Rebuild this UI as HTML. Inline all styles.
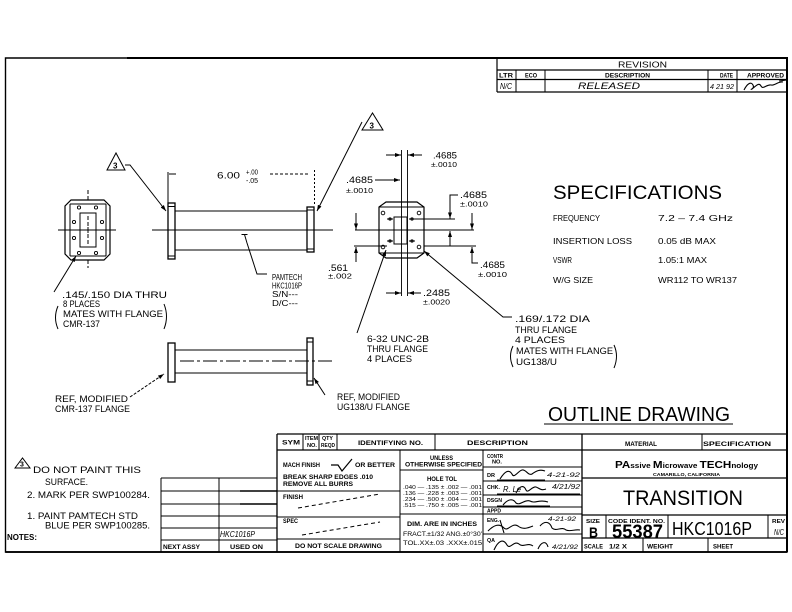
<!DOCTYPE html>
<html><head><meta charset="utf-8">
<style>
html,body{margin:0;padding:0;background:#fff;}
svg{display:block;}
text{font-family:"Liberation Sans",sans-serif;fill:#000;stroke:none;}
</style></head><body>
<svg width="792" height="612" viewBox="0 0 792 612" xmlns="http://www.w3.org/2000/svg">
<defs>
<marker id="ah" viewBox="0 0 6 4" refX="6" refY="2" markerWidth="6" markerHeight="4" markerUnits="userSpaceOnUse" orient="auto"><path d="M0,0L6,2L0,4z" fill="#000"/></marker>
</defs>
<rect width="792" height="612" fill="#fff"/>

<g stroke="#000" fill="none" stroke-width="1">
<!-- border -->
<path d="M5.5,58 H787 V552 H5.5 Z" stroke-width="1.4"/>
<path d="M127,58 H787 V552" stroke-width="2"/>
<path d="M5.5,552 H787" stroke-width="1.8"/>

<!-- revision block -->
<path d="M497,58 V92 M497,70 H787 M497,79.5 H787 M497,92 H787" stroke-width="1.2"/>
<path d="M516,70 V92 M545,70 V92 M708,70 V92 M737,70 V92"/>

<!-- title block -->
<path d="M277,434 H787 M277,450 H787" stroke-width="1.3"/>
<path d="M277,434 V552 M582,434 V552" stroke-width="1.3"/>
<path d="M303,434 V450 M319,434 V450 M337,434 V450 M435,434 V450 M702,434 V450"/>
<path d="M400,450 V552 M483,450 V552"/>
<path d="M277,491 H400 M277,517 H400 M277,539 H400"/>
<path d="M400,470 H483 M400,514 H483"/>
<path d="M483,467 H582 M483,481 H582 M483,495 H582 M483,507 H582 M483,514 H582 M483,534 H582"/>
<path d="M582,478 H787 M582,515 H787 M582,538 H787" stroke-width="1.2"/>
<path d="M606,515 V538 M668,515 V538 M768,515 V538 M643,538 V552 M708,538 V552"/>
<!-- next assy table -->
<path d="M161,478 V552 M219,478 V552"/>
<path d="M161,478 H277 M161,491 H277 M161,504 H277 M161,516 H277 M161,528 H277 M161,540 H277"/>
<path d="M240,491 H277 M240,504 H277" stroke-width="1.6"/>

<!-- left end view -->
<path d="M71,200 H104 L110,206 V254 L104,260 H71 L65,254 V206 Z" stroke-width="1.2"/>
<path d="M70,204 V256 M106,204 V256 M70,204 H106 M70,256 H106"/>
<rect x="80" y="213" width="16" height="34"/>
<path d="M58,230 H116"/>
<path d="M88,190 V200 M88,260 V268 M88,216 V244" stroke-dasharray="4 2"/>
<path d="M85,230 H91 M88,227 V233"/>
<g stroke-width="0.9">
<circle cx="79" cy="207.5" r="1.6"/><circle cx="96" cy="207.5" r="1.6"/>
<circle cx="74" cy="222" r="1.6"/><circle cx="102" cy="222" r="1.6"/>
<circle cx="74" cy="238" r="1.6"/><circle cx="102" cy="238" r="1.6"/>
<circle cx="79" cy="253" r="1.6"/><circle cx="96" cy="253" r="1.6"/>
</g>
<path d="M54,292 L76,256" marker-end="url(#ah)"/>
<path d="M58,306 Q53,317.5 58,329"/>
<path d="M164,304 Q169,316.5 164,329"/>

<!-- top side view -->
<rect x="168" y="203" width="7" height="56" stroke-width="1.3"/>
<path d="M168,206.5 H175 M168,256 H175"/>
<path d="M175,211 H307 M175,250 H307" stroke-width="1.1"/>
<rect x="307" y="207" width="7" height="45" stroke-width="1.3"/>
<path d="M307,210 H314 M307,249 H314"/>
<path d="M152,230 H333"/>
<path d="M168,203 V172"/>
<path d="M169,174 H176"/>
<path d="M270,174 H310" stroke-dasharray="3 2"/>
<path d="M314.5,170 V206" stroke-dasharray="2 2"/>
<path d="M241.5,234.5 H247.5 M244.5,234.5 L247,243 L257,274 H267"/>
<!-- triangles -->
<path d="M107,170 L116,153 L125,170 Z"/>
<path d="M125,165 H130 L166,211" marker-end="url(#ah)"/>
<path d="M362,130 L372.5,113 L383,130 Z"/>
<path d="M362,122 L317,211" marker-end="url(#ah)"/>

<!-- right end view -->
<path d="M379,207 L386,202 H417 L424,207 V253 L417,258 H386 L379,253 Z" stroke-width="1.2"/>
<path d="M379,207 H424 M379,253 H424"/>
<rect x="394" y="217" width="13" height="27"/>
<g stroke-width="0.9">
<circle cx="383" cy="213" r="1.8"/><circle cx="419" cy="213" r="1.8"/>
<circle cx="383" cy="247" r="1.8"/><circle cx="419" cy="247" r="1.8"/>
<circle cx="390" cy="219" r="1.2"/><circle cx="412" cy="219" r="1.2"/>
<circle cx="390" cy="241" r="1.2"/><circle cx="412" cy="241" r="1.2"/>
<path d="M387,219 H393 M409,219 H415 M387,241 H393 M409,241 H415"/>
</g>
<path d="M401.5,150 V296 M407.5,150 V296" stroke-width="0.9"/>
<path d="M355,230 H474"/>
<path d="M386,155 H401" marker-end="url(#ah)"/>
<path d="M422,155 H408" marker-end="url(#ah)"/>
<path d="M375,180 H400" marker-end="url(#ah)"/>
<path d="M458,195 H450 V218.5" marker-end="url(#ah)"/>
<path d="M412,219 H455"/>
<path d="M450,246 V231" marker-end="url(#ah)"/>
<path d="M472,213 V229.5" marker-end="url(#ah)"/>
<path d="M478,263 H472 V247" marker-end="url(#ah)"/>
<path d="M424,246 H476"/>
<path d="M356,213 V229.5" marker-end="url(#ah)"/>
<path d="M356,262 V247" marker-end="url(#ah)"/>
<path d="M354,246 H387"/>
<path d="M386,293 H401" marker-end="url(#ah)"/>
<path d="M421,293 H408" marker-end="url(#ah)"/>
<path d="M357,333 L386,250" marker-end="url(#ah)"/>
<path d="M512,317 H503 L424,251" marker-end="url(#ah)"/>
<path d="M513,346 Q508,356 513,367"/>
<path d="M614,345 Q619,356 614,368"/>

<!-- lower side view -->
<rect x="168" y="343" width="7" height="39" stroke-width="1.3"/>
<path d="M175,350 H307 M175,373 H307" stroke-width="1.1"/>
<rect x="307" y="338" width="6" height="47" stroke-width="1.3"/>
<path d="M307,342 H313 M307,381 H313"/>
<path d="M180,361 H333" stroke-dasharray="14 3 3 3"/>
<path d="M130,397 L164,374" marker-end="url(#ah)" stroke-dasharray="3 1.5"/>
<path d="M325,395 L314,378" marker-end="url(#ah)"/>

<!-- outline drawing underline -->
<path d="M544,424 H733"/>

<!-- notes triangle -->
<path d="M15,468 L22.5,458 L30,468 Z"/>

<!-- title block misc -->
<path d="M331,465 H338 L342,471 L352,459" stroke-width="1.2"/>
<path d="M298,508 L380,494" stroke-dasharray="4 3"/>
<path d="M302,535 L380,522" stroke-dasharray="4 3"/>
<!-- signatures -->
<path d="M744,90 C747,84 751,81 753,85 C755,89 749,90 752,89 C756,86 759,82 761,86 C763,90 767,84 771,85 C775,86 778,81 783,82 M779,81 L787,80" stroke-width="1.1"/>
<path d="M500,479 C505,471 509,469 512,474 C514,479 518,471 522,470 C526,469 528,476 532,474 C536,471 540,469 545,471 M497,480 H545" stroke-width="1.1"/>
<path d="M516,493 C520,485 524,485 526,490 C528,494 532,486 536,487 C539,488 541,491 546,489 M497,494 H580" stroke-width="1.1"/>
<path d="M503,505 C508,499 513,498 516,503 C520,506 525,499 530,501 C535,504 539,499 548,502 M497,506 H550" stroke-width="1.1"/>
<path d="M488,531 C494,525 499,523 504,528 C508,532 512,522 518,526 C523,530 528,528 533,526 M540,526 C545,520 550,522 552,528 C556,532 562,526 566,530 C570,532 575,529 580,530 M500,520 L504,533" stroke-width="1.1"/>
<path d="M494,550 C498,541 503,538 507,545 C510,550 514,540 519,544 C523,548 528,542 533,546 M538,549 C541,542 546,540 548,547" stroke-width="1.1"/>
</g>

<!-- ===== TEXT ===== -->
<g font-size="9" style="stroke:#000;stroke-width:0.15">
<!-- left end view notes -->
<text x="62" y="298" textLength="105" lengthAdjust="spacingAndGlyphs">.145/.150 DIA THRU</text>
<text x="63" y="307" textLength="37" lengthAdjust="spacingAndGlyphs">8 PLACES</text>
<text x="63" y="317" textLength="100" lengthAdjust="spacingAndGlyphs">MATES WITH FLANGE</text>
<text x="63" y="327" textLength="37" lengthAdjust="spacingAndGlyphs">CMR-137</text>
<!-- 6.00 -->
<text x="217" y="178.5" textLength="23" lengthAdjust="spacingAndGlyphs">6.00</text>
<text x="246" y="174.5" font-size="7" textLength="12" lengthAdjust="spacingAndGlyphs">+.00</text>
<text x="246" y="183" font-size="7" textLength="12" lengthAdjust="spacingAndGlyphs">-.05</text>
<text x="113" y="168.5" font-size="8" font-weight="bold">3</text>
<text x="369.5" y="128.5" font-size="8" font-weight="bold">3</text>
<!-- pamtech -->
<text x="272" y="280" font-size="8" textLength="30" lengthAdjust="spacingAndGlyphs">PAMTECH</text>
<text x="272" y="288.5" font-size="8" textLength="30" lengthAdjust="spacingAndGlyphs">HKC1016P</text>
<text x="272" y="297" font-size="8" textLength="26" lengthAdjust="spacingAndGlyphs">S/N---</text>
<text x="272" y="306" font-size="8" textLength="26" lengthAdjust="spacingAndGlyphs">D/C---</text>
<!-- right end view dims -->
<text x="328" y="271" textLength="20" lengthAdjust="spacingAndGlyphs">.561</text>
<text x="328" y="278.5" font-size="7.5" textLength="24" lengthAdjust="spacingAndGlyphs">±.002</text>
<text x="433" y="158.5" textLength="24" lengthAdjust="spacingAndGlyphs">.4685</text>
<text x="431" y="167" font-size="7.5" textLength="26" lengthAdjust="spacingAndGlyphs">±.0010</text>
<text x="346" y="183" textLength="27" lengthAdjust="spacingAndGlyphs">.4685</text>
<text x="346" y="193" font-size="7.5" textLength="27" lengthAdjust="spacingAndGlyphs">±.0010</text>
<text x="460" y="198" textLength="27" lengthAdjust="spacingAndGlyphs">.4685</text>
<text x="460" y="206.5" font-size="7.5" textLength="28" lengthAdjust="spacingAndGlyphs">±.0010</text>
<text x="480" y="268" textLength="25" lengthAdjust="spacingAndGlyphs">.4685</text>
<text x="478" y="277" font-size="7.5" textLength="29" lengthAdjust="spacingAndGlyphs">±.0010</text>
<text x="423" y="296" textLength="27" lengthAdjust="spacingAndGlyphs">.2485</text>
<text x="423" y="304.5" font-size="7.5" textLength="27" lengthAdjust="spacingAndGlyphs">±.0020</text>
<text x="367" y="342" textLength="62" lengthAdjust="spacingAndGlyphs">6-32 UNC-2B</text>
<text x="367" y="352" textLength="61" lengthAdjust="spacingAndGlyphs">THRU FLANGE</text>
<text x="367" y="362" textLength="45" lengthAdjust="spacingAndGlyphs">4 PLACES</text>
<text x="515" y="322" textLength="75" lengthAdjust="spacingAndGlyphs">.169/.172 DIA</text>
<text x="515" y="333" textLength="62" lengthAdjust="spacingAndGlyphs">THRU FLANGE</text>
<text x="515" y="343" textLength="50" lengthAdjust="spacingAndGlyphs">4 PLACES</text>
<text x="516" y="354" textLength="97" lengthAdjust="spacingAndGlyphs">MATES WITH FLANGE</text>
<text x="516" y="365" textLength="41" lengthAdjust="spacingAndGlyphs">UG138/U</text>
<!-- lower view labels -->
<text x="55" y="402" textLength="73" lengthAdjust="spacingAndGlyphs">REF, MODIFIED</text>
<text x="55" y="412" textLength="75" lengthAdjust="spacingAndGlyphs">CMR-137 FLANGE</text>
<text x="337" y="400" textLength="63" lengthAdjust="spacingAndGlyphs">REF, MODIFIED</text>
<text x="337" y="410" textLength="73" lengthAdjust="spacingAndGlyphs">UG138/U FLANGE</text>
</g>

<!-- specifications -->
<text x="553" y="199" font-size="19.5" textLength="169" lengthAdjust="spacingAndGlyphs">SPECIFICATIONS</text>
<g font-size="8.5">
<text x="553" y="221" textLength="47" lengthAdjust="spacingAndGlyphs">FREQUENCY</text>
<text x="658" y="221" textLength="75" lengthAdjust="spacingAndGlyphs">7.2 – 7.4 GHz</text>
<text x="553" y="244" textLength="79" lengthAdjust="spacingAndGlyphs">INSERTION LOSS</text>
<text x="658" y="244" textLength="58" lengthAdjust="spacingAndGlyphs">0.05 dB MAX</text>
<text x="553" y="263" textLength="19" lengthAdjust="spacingAndGlyphs">VSWR</text>
<text x="658" y="263" textLength="49" lengthAdjust="spacingAndGlyphs">1.05:1 MAX</text>
<text x="553" y="283" textLength="40" lengthAdjust="spacingAndGlyphs">W/G SIZE</text>
<text x="658" y="283" textLength="79" lengthAdjust="spacingAndGlyphs">WR112 TO WR137</text>
</g>
<text x="548" y="421" font-size="20.5" textLength="182" lengthAdjust="spacingAndGlyphs">OUTLINE DRAWING</text>

<!-- revision text -->
<text x="618" y="67.5" font-size="8.5" textLength="49" lengthAdjust="spacingAndGlyphs">REVISION</text>
<g font-size="6.5" font-weight="bold">
<text x="499" y="77.5" textLength="14" lengthAdjust="spacingAndGlyphs">LTR</text>
<text x="525" y="77.5" textLength="12" lengthAdjust="spacingAndGlyphs">ECO</text>
<text x="605" y="77.5" textLength="45" lengthAdjust="spacingAndGlyphs">DESCRIPTION</text>
<text x="720" y="77.5" textLength="13" lengthAdjust="spacingAndGlyphs">DATE</text>
<text x="747" y="77.5" textLength="37" lengthAdjust="spacingAndGlyphs">APPROVED</text>
</g>
<text x="500" y="89" font-size="8" font-style="italic" textLength="12" lengthAdjust="spacingAndGlyphs">N/C</text>
<text x="578" y="89" font-size="9" font-style="italic" textLength="62" lengthAdjust="spacingAndGlyphs">RELEASED</text>
<text x="710" y="89" font-size="7" font-style="italic" textLength="24" lengthAdjust="spacingAndGlyphs">4 21 92</text>

<!-- notes -->
<g font-size="9" style="stroke:#000;stroke-width:0.15">
<text x="20" y="466.5" font-size="7" font-weight="bold">3</text>
<text x="33" y="473" textLength="108" lengthAdjust="spacingAndGlyphs">DO NOT PAINT THIS</text>
<text x="45" y="485" textLength="43" lengthAdjust="spacingAndGlyphs">SURFACE.</text>
<text x="27" y="498" textLength="123" lengthAdjust="spacingAndGlyphs">2. MARK PER SWP100284.</text>
<text x="27" y="519" textLength="111" lengthAdjust="spacingAndGlyphs">1. PAINT PAMTECH STD</text>
<text x="45" y="528.5" textLength="105" lengthAdjust="spacingAndGlyphs">BLUE PER SWP100285.</text>
<text x="7" y="540" font-size="8" font-weight="bold" textLength="30" lengthAdjust="spacingAndGlyphs">NOTES:</text>
</g>
<text x="220" y="537" font-size="8" font-style="italic" textLength="35" lengthAdjust="spacingAndGlyphs">HKC1016P</text>
<text x="163" y="549" font-size="6.5" font-weight="bold" textLength="37" lengthAdjust="spacingAndGlyphs">NEXT ASSY</text>
<text x="230" y="549" font-size="6.5" font-weight="bold" textLength="33" lengthAdjust="spacingAndGlyphs">USED ON</text>

<!-- title block text -->
<g font-size="6.5" font-weight="bold">
<text x="282" y="444.5" textLength="18" lengthAdjust="spacingAndGlyphs">SYM</text>
<text x="305" y="440" font-size="5.5" textLength="13" lengthAdjust="spacingAndGlyphs">ITEM</text>
<text x="307" y="447" font-size="5.5" textLength="10" lengthAdjust="spacingAndGlyphs">NO.</text>
<text x="322" y="440" font-size="5.5" textLength="11" lengthAdjust="spacingAndGlyphs">QTY</text>
<text x="321" y="447" font-size="5.5" textLength="14" lengthAdjust="spacingAndGlyphs">REQD</text>
<text x="358" y="445" textLength="65" lengthAdjust="spacingAndGlyphs">IDENTIFYING NO.</text>
<text x="467" y="445" textLength="61" lengthAdjust="spacingAndGlyphs">DESCRIPTION</text>
<text x="625" y="446" textLength="32" lengthAdjust="spacingAndGlyphs">MATERIAL</text>
<text x="703" y="446" textLength="68" lengthAdjust="spacingAndGlyphs">SPECIFICATION</text>
<text x="283" y="467" textLength="37" lengthAdjust="spacingAndGlyphs">MACH FINISH</text>
<text x="355" y="467" textLength="40" lengthAdjust="spacingAndGlyphs">OR BETTER</text>
<text x="283" y="479" textLength="90" lengthAdjust="spacingAndGlyphs">BREAK SHARP EDGES .010</text>
<text x="283" y="486" textLength="70" lengthAdjust="spacingAndGlyphs">REMOVE ALL BURRS</text>
<text x="283" y="499" textLength="20" lengthAdjust="spacingAndGlyphs">FINISH</text>
<text x="283" y="523" textLength="15" lengthAdjust="spacingAndGlyphs">SPEC</text>
<text x="295" y="548" textLength="87" lengthAdjust="spacingAndGlyphs">DO NOT SCALE DRAWING</text>
<text x="430" y="460" textLength="23" lengthAdjust="spacingAndGlyphs">UNLESS</text>
<text x="405" y="466.5" textLength="77" lengthAdjust="spacingAndGlyphs">OTHERWISE SPECIFIED</text>
<text x="427" y="481" textLength="30" lengthAdjust="spacingAndGlyphs">HOLE TOL</text>
<text x="407" y="526" textLength="70" lengthAdjust="spacingAndGlyphs">DIM. ARE IN INCHES</text>
</g>
<g font-size="5.5">
<text x="403" y="489" textLength="79" lengthAdjust="spacingAndGlyphs">.040 — .135 ± .002 — .001</text>
<text x="403" y="495" textLength="79" lengthAdjust="spacingAndGlyphs">.136 — .228 ± .003 — .001</text>
<text x="403" y="501" textLength="79" lengthAdjust="spacingAndGlyphs">.234 — .500 ± .004 — .001</text>
<text x="403" y="507" textLength="79" lengthAdjust="spacingAndGlyphs">.515 — .750 ± .005 — .001</text>
<text x="403" y="536" font-size="6" textLength="79" lengthAdjust="spacingAndGlyphs">FRACT.±1/32 ANG.±0°30'</text>
<text x="403" y="545" font-size="6" textLength="79" lengthAdjust="spacingAndGlyphs">TOL.XX±.03  .XXX±.015</text>
</g>
<g font-size="5.5" font-weight="bold">
<text x="487" y="458" textLength="16" lengthAdjust="spacingAndGlyphs">CONTR</text>
<text x="492" y="463.5" textLength="10" lengthAdjust="spacingAndGlyphs">NO.</text>
<text x="487" y="477" textLength="8" lengthAdjust="spacingAndGlyphs">DR</text>
<text x="487" y="489" textLength="13" lengthAdjust="spacingAndGlyphs">CHK.</text>
<text x="487" y="502" textLength="15" lengthAdjust="spacingAndGlyphs">DSGN</text>
<text x="487" y="512.5" textLength="14" lengthAdjust="spacingAndGlyphs">APPD</text>
<text x="487" y="522" textLength="12" lengthAdjust="spacingAndGlyphs">ENG.</text>
<text x="487" y="542" textLength="8" lengthAdjust="spacingAndGlyphs">QA</text>
</g>
<g font-size="6.5" font-style="italic">
<text x="547" y="477" textLength="33" lengthAdjust="spacingAndGlyphs">4-21-92</text>
<text x="503" y="492" font-size="8" textLength="18" lengthAdjust="spacingAndGlyphs">R. Le</text>
<text x="552" y="489" font-size="7" textLength="28" lengthAdjust="spacingAndGlyphs">4/21/92</text>
<text x="548" y="521" textLength="28" lengthAdjust="spacingAndGlyphs">4-21-92</text>
<text x="552" y="549" textLength="26" lengthAdjust="spacingAndGlyphs">4/21/92</text>
</g>
<!-- company -->
<text x="615" y="468" font-size="7" font-weight="bold" textLength="143" lengthAdjust="spacingAndGlyphs"><tspan font-size="10">PA</tspan>ssive <tspan font-size="10">M</tspan>icrowave <tspan font-size="10">TECH</tspan>nology</text>
<text x="653" y="476" font-size="4.5" font-weight="bold" textLength="67" lengthAdjust="spacingAndGlyphs">CAMARILLO, CALIFORNIA</text>
<text x="623" y="505" font-size="21" textLength="120" lengthAdjust="spacingAndGlyphs">TRANSITION</text>
<g font-size="5.5" font-weight="bold">
<text x="586" y="523" textLength="14" lengthAdjust="spacingAndGlyphs">SIZE</text>
<text x="608" y="523" textLength="57" lengthAdjust="spacingAndGlyphs">CODE IDENT. NO.</text>
<text x="772" y="523" textLength="13" lengthAdjust="spacingAndGlyphs">REV</text>
<text x="584" y="548.5" font-size="6.5" textLength="19" lengthAdjust="spacingAndGlyphs">SCALE</text>
<text x="609" y="548.5" font-size="6.5" textLength="18" lengthAdjust="spacingAndGlyphs">1/2 X</text>
<text x="647" y="548.5" font-size="6.5" textLength="26" lengthAdjust="spacingAndGlyphs">WEIGHT</text>
<text x="713" y="548.5" font-size="6.5" textLength="20" lengthAdjust="spacingAndGlyphs">SHEET</text>
</g>
<text x="589" y="537.5" font-size="15" font-weight="bold" textLength="9" lengthAdjust="spacingAndGlyphs">B</text>
<text x="612" y="538" font-size="19" font-weight="bold" textLength="51" lengthAdjust="spacingAndGlyphs">55387</text>
<text x="672" y="535" font-size="18" textLength="80" lengthAdjust="spacingAndGlyphs">HKC1016P</text>
<text x="774" y="535" font-size="8" font-style="italic" textLength="10" lengthAdjust="spacingAndGlyphs">N/C</text>
</svg>
</body></html>
